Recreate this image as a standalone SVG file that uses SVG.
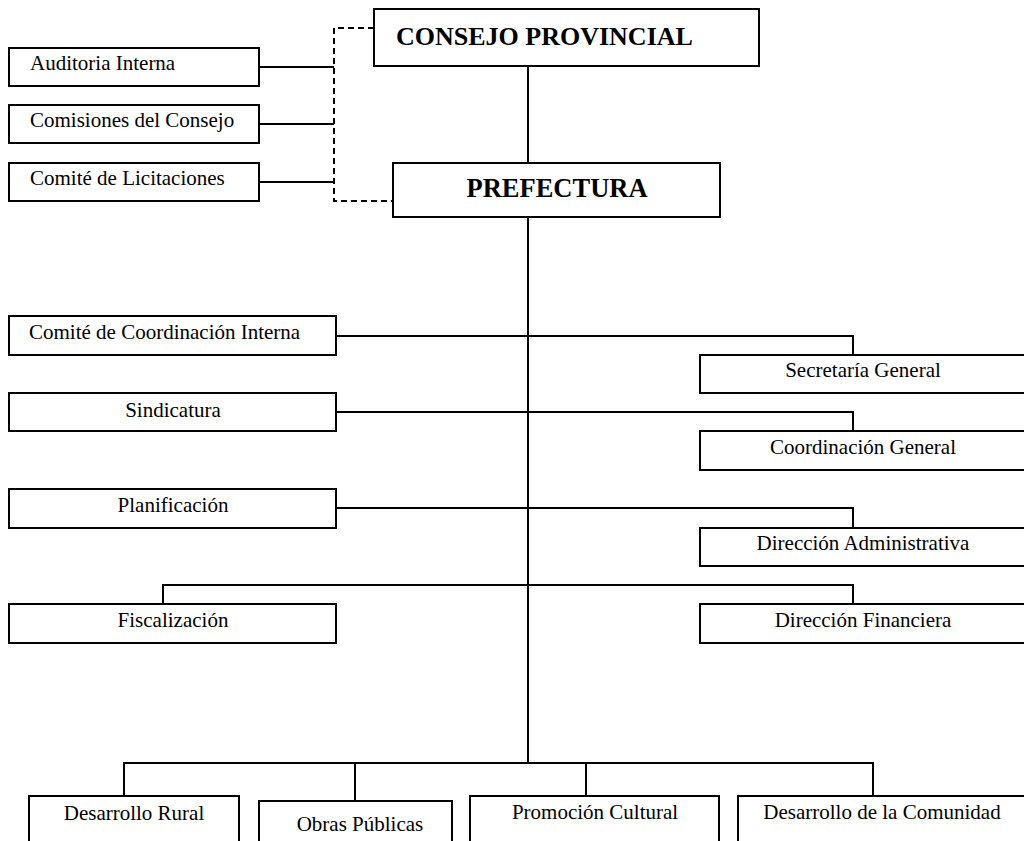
<svg xmlns="http://www.w3.org/2000/svg" width="1024" height="841" viewBox="0 0 1024 841">
<style>
.box{fill:#fff;stroke:#000;stroke-width:2}
.t{font-family:"Liberation Serif","Times New Roman",serif;font-size:21px;fill:#000}
.tb{font-family:"Liberation Serif","Times New Roman",serif;font-size:26px;font-weight:bold;fill:#000}
.c{text-anchor:middle}
.ln{fill:none;stroke:#000;stroke-width:2}
.dash{fill:none;stroke:#000;stroke-width:2;stroke-dasharray:6,4}
</style>
<rect width="1024" height="841" fill="#fff"/>
<g id="connectors">
<path class="dash" d="M374,28 H334 V201 H394"/>
<path class="ln" d="M259,67 H334 M259,124 H334 M259,182 H334"/>
<path class="ln" d="M528,66 V163"/>
<path class="ln" d="M528,217 V763"/>
<path class="ln" d="M336,336 H853 V354"/>
<path class="ln" d="M336,412 H853 V431"/>
<path class="ln" d="M336,508 H853 V528"/>
<path class="ln" d="M163,604 V585 H853 V604"/>
<path class="ln" d="M124,796 V763 H873 V802 M355,763 V801 M586,763 V796"/>
</g>
<g id="consejo"><rect class="box" x="374" y="9" width="385" height="57"/><text class="tb" x="396" y="45">CONSEJO PROVINCIAL</text></g>
<g id="prefectura"><rect class="box" x="393" y="163" width="327" height="54"/><text class="tb c" x="557" y="197" style="font-size:26.5px">PREFECTURA</text></g>
<g id="auditoria"><rect class="box" x="9" y="48" width="250" height="38"/><text class="t" x="30" y="70">Auditoria Interna</text></g>
<g id="comisiones"><rect class="box" x="9" y="105" width="250" height="38"/><text class="t" x="30" y="127">Comisiones del Consejo</text></g>
<g id="licitaciones"><rect class="box" x="9" y="163" width="250" height="38"/><text class="t" x="30" y="185">Comité de Licitaciones</text></g>
<g id="coordinacion-interna"><rect class="box" x="9" y="316" width="327" height="39"/><text class="t" x="29" y="339">Comité de Coordinación Interna</text></g>
<g id="sindicatura"><rect class="box" x="9" y="393" width="327" height="38"/><text class="t c" x="173" y="417">Sindicatura</text></g>
<g id="planificacion"><rect class="box" x="9" y="489" width="327" height="39"/><text class="t c" x="173" y="512">Planificación</text></g>
<g id="fiscalizacion"><rect class="box" x="9" y="604" width="327" height="39"/><text class="t c" x="173" y="627">Fiscalización</text></g>
<g id="secretaria"><rect class="box" x="700" y="355" width="327" height="38"/><text class="t c" x="863" y="377">Secretaría General</text></g>
<g id="coordinacion-general"><rect class="box" x="700" y="431" width="327" height="39"/><text class="t c" x="863" y="454">Coordinación General</text></g>
<g id="dir-administrativa"><rect class="box" x="700" y="528" width="327" height="38"/><text class="t c" x="863" y="550">Dirección Administrativa</text></g>
<g id="dir-financiera"><rect class="box" x="700" y="604" width="327" height="39"/><text class="t c" x="863" y="627">Dirección Financiera</text></g>
<g id="desarrollo-rural"><rect class="box" x="29" y="796" width="210" height="60"/><text class="t c" x="134" y="820">Desarrollo Rural</text></g>
<g id="obras-publicas"><rect class="box" x="259" y="801" width="193" height="60"/><text class="t c" x="360" y="831">Obras Públicas</text></g>
<g id="promocion-cultural"><rect class="box" x="470" y="796" width="249" height="60"/><text class="t c" x="595" y="819">Promoción Cultural</text></g>
<g id="desarrollo-comunidad"><rect class="box" x="738" y="796" width="300" height="60"/><text class="t c" x="882" y="819">Desarrollo de la Comunidad</text></g>
</svg>
